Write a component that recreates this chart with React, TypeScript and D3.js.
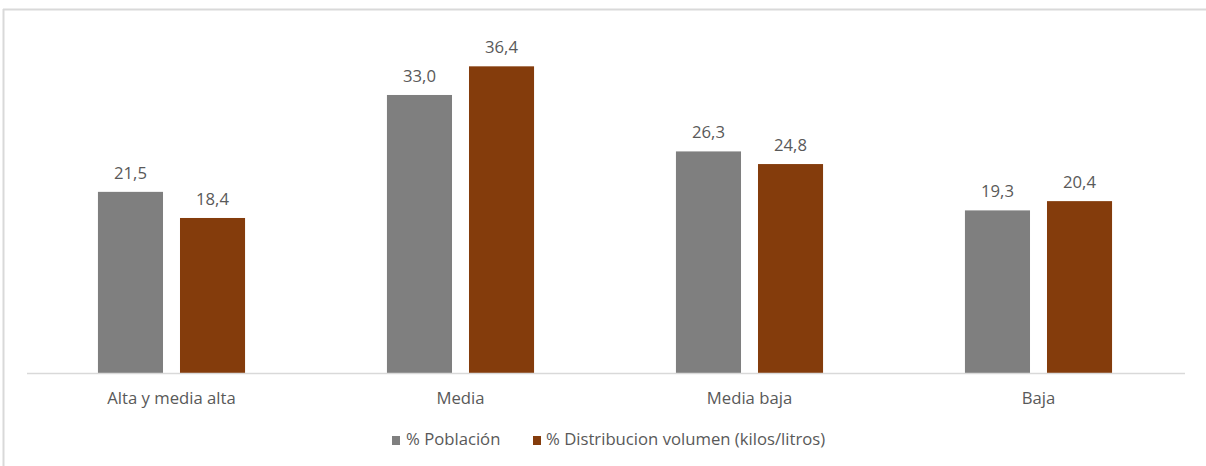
import React from "react";
import * as d3 from "d3";

const categories = ["Alta y media alta", "Media", "Media baja", "Baja"];
const seriesNames = ["% Población", "% Distribucion volumen (kilos/litros)"];
const poblacion = [21.5, 33.0, 26.3, 19.3];
const distribucion = [18.4, 36.4, 24.8, 20.4];
const colors = ["#7f7f7f", "#843c0c"];

const W = 1206;
const H = 466;
const FONT = "'Open Sans', sans-serif";
const FS = 16.7;

export default function App() {
  const seriesValues = [poblacion, distribucion];
  const x0 = d3.scaleBand<string>().domain(categories).range([27, 1183]).paddingInner(0.491).paddingOuter(0.2455);
  const x1 = d3.scaleBand<string>().domain(seriesNames).range([0, x0.bandwidth()]).paddingInner(0.207).paddingOuter(0);
  const y = d3.scaleLinear().domain([0, 40]).range([373, 36]);
  const fmt = (v: number) => d3.format(".1f")(v).replace(".", ",");

  return (
    <svg width={W} height={H} style={{ position: "absolute", left: 0, top: 0 }} fontFamily={FONT}>
      <rect x={0} y={0} width={W} height={H} fill="#fff" />
      <line x1={3.5} x2={3.5} y1={9} y2={H} stroke="#d9d9d9" strokeWidth={2} />
      <line x1={3} x2={W} y1={9.5} y2={9.5} stroke="#d9d9d9" strokeWidth={2} />
      {categories.map((c, ci) => (
        <g key={c}>
          {seriesNames.map((s, si) => {
            const v = seriesValues[si][ci];
            const bx = (x0(c) ?? 0) + (x1(s) ?? 0);
            return (
              <g key={s}>
                <rect x={bx} y={y(v)} width={x1.bandwidth()} height={y(0) - y(v)} fill={colors[si]} />
                <text x={bx + x1.bandwidth() / 2} y={y(v) - 13} textAnchor="middle" fontSize={FS} fill="#595959">
                  {fmt(v)}
                </text>
              </g>
            );
          })}
          <text x={(x0(c) ?? 0) + x0.bandwidth() / 2} y={404} textAnchor="middle" fontSize={FS} fill="#595959">
            {c}
          </text>
        </g>
      ))}
      <line x1={27} x2={1185} y1={373.5} y2={373.5} stroke="#d9d9d9" strokeWidth={1.5} />
      <g>
        <rect x={392} y={436} width={8} height={9} fill={colors[0]} />
        <text x={406} y={445} fontSize={FS} fill="#595959">{seriesNames[0]}</text>
        <rect x={533} y={436} width={8} height={9} fill={colors[1]} />
        <text x={546} y={445} fontSize={FS} fill="#595959">{seriesNames[1]}</text>
      </g>
    </svg>
  );
}
